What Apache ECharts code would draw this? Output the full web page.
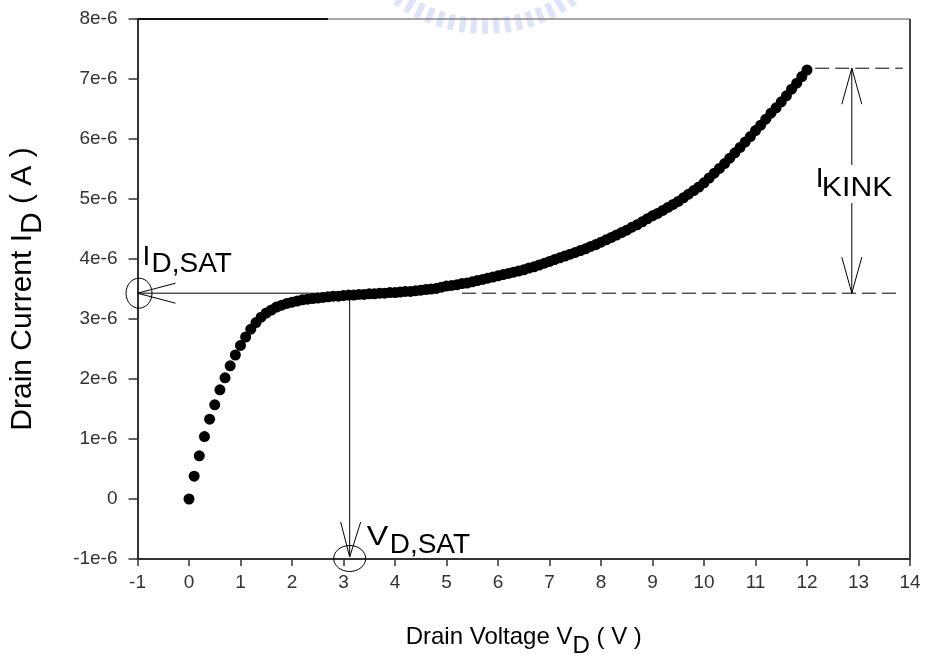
<!DOCTYPE html>
<html><head><meta charset="utf-8">
<script src="https://cdn.jsdelivr.net/npm/echarts@6/dist/echarts.min.js"></script>
<style>html,body{margin:0;padding:0;background:#fff}#c{width:926px;height:659px}</style>
</head><body><div id="c"></div>
<script>
// Drain voltage (V)
const voltage = [
 0.0,0.1,0.2,0.3,0.4,0.5,0.6,0.7,0.8,0.9,
 1.0,1.1,1.2,1.3,1.4,1.5,1.6,1.7,1.8,1.9,
 2.0,2.1,2.2,2.3,2.4,2.5,2.6,2.7,2.8,2.9,
 3.0,3.1,3.2,3.3,3.4,3.5,3.6,3.7,3.8,3.9,
 4.0,4.1,4.2,4.3,4.4,4.5,4.6,4.7,4.8,4.9,
 5.0,5.1,5.2,5.3,5.4,5.5,5.6,5.7,5.8,5.9,
 6.0,6.1,6.2,6.3,6.4,6.5,6.6,6.7,6.8,6.9,
 7.0,7.1,7.2,7.3,7.4,7.5,7.6,7.7,7.8,7.9,
 8.0,8.1,8.2,8.3,8.4,8.5,8.6,8.7,8.8,8.9,
 9.0,9.1,9.2,9.3,9.4,9.5,9.6,9.7,9.8,9.9,
 10.0,10.1,10.2,10.3,10.4,10.5,10.6,10.7,10.8,10.9,
 11.0,11.1,11.2,11.3,11.4,11.5,11.6,11.7,11.8,11.9,
 12.0
];
// Drain current, in units of 1e-6 A
const currentMicroA = [
 0.00,0.38,0.72,1.04,1.33,1.57,1.82,2.02,2.22,2.40,
 2.56,2.70,2.83,2.94,3.03,3.10,3.15,3.20,3.23,3.26,
 3.28,3.30,3.32,3.33,3.34,3.35,3.36,3.37,3.38,3.38,
 3.39,3.40,3.40,3.41,3.41,3.42,3.42,3.43,3.43,3.44,
 3.44,3.45,3.46,3.46,3.47,3.48,3.49,3.50,3.51,3.53,
 3.55,3.56,3.57,3.59,3.60,3.62,3.64,3.66,3.68,3.70,
 3.72,3.74,3.76,3.78,3.80,3.82,3.85,3.87,3.90,3.93,
 3.96,3.99,4.02,4.05,4.08,4.11,4.14,4.17,4.21,4.24,
 4.28,4.32,4.36,4.40,4.44,4.48,4.53,4.57,4.62,4.67,
 4.72,4.76,4.81,4.86,4.91,4.96,5.02,5.08,5.14,5.20,
 5.27,5.35,5.43,5.51,5.59,5.68,5.77,5.86,5.95,6.04,
 6.14,6.23,6.33,6.43,6.52,6.62,6.72,6.83,6.93,7.04,
 7.15
];
const xTickLabels = ['-1','0','1','2','3','4','5','6','7','8','9','10','11','12','13','14'];
const yTickLabels = ['-1e-6','0','1e-6','2e-6','3e-6','4e-6','5e-6','6e-6','7e-6','8e-6'];

// annotation anchors (data units: V, 1e-6 A)
const ID_SAT = 3.43;
const VD_SAT = 3.12;
const I_KINK_TOP = 7.18;
const KINK_X = 12.87;
const satDashFrom = 5.3, satDashTo = 13.77;
const topDashFrom = 12.16, topDashTo = 13.86;

const FONT = 'Liberation Sans, Arial, Helvetica, sans-serif';
const chart = echarts.init(document.getElementById('c'), null, {renderer:'canvas'});

const xMin = -1, xMax = 14, yMin = -1, yMax = 8;

chart.setOption({
  animation: false,
  backgroundColor: '#fff',
  grid: {left: 137.5, right: 16, top: 19, bottom: 100, show: false, containLabel: false, outerBoundsMode: 'none'},
  xAxis: {
    type: 'value', min: xMin, max: xMax, interval: 1,
    axisLine: {show: true, onZero: false, lineStyle: {color: '#333', width: 2}},
    axisTick: {show: true, inside: false, length: 7, lineStyle: {color: '#333', width: 1.5}},
    splitLine: {show: false},
    axisLabel: {margin: 14, fontSize: 19, fontFamily: FONT, color: '#333',
      formatter: v => xTickLabels[Math.round(v - xMin)]},
    name: '{a|Drain Voltage V}{s|D}{a| ( V )}',
    nameLocation: 'middle', nameGap: 66,
    nameTextStyle: {
      rich: {
        a: {fontSize: 24, fontFamily: FONT, color: '#000', lineHeight: 28, verticalAlign: 'top'},
        s: {fontSize: 24, fontFamily: FONT, color: '#000', lineHeight: 28, padding: [9,0,0,0], verticalAlign: 'top'}
      }
    }
  },
  yAxis: {
    type: 'value', min: yMin, max: yMax, interval: 1,
    axisLine: {show: true, onZero: false, lineStyle: {color: '#333', width: 2}},
    axisTick: {show: true, inside: false, length: 9, lineStyle: {color: '#333', width: 1.5}},
    splitLine: {show: false},
    axisLabel: {margin: 20, fontSize: 19, fontFamily: FONT, color: '#333',
      formatter: v => yTickLabels[Math.round(v - yMin)]},
    name: '{a|Drain Current I}{s|D}{a| ( A )}',
    nameLocation: 'middle', nameGap: 96, nameRotate: 90,
    nameTextStyle: {
      rich: {
        a: {fontSize: 30, fontFamily: FONT, color: '#000', lineHeight: 34, verticalAlign: 'top'},
        s: {fontSize: 30, fontFamily: FONT, color: '#000', lineHeight: 34, padding: [10,0,0,0], verticalAlign: 'top'}
      }
    }
  },
  series: [{
    type: 'scatter',
    data: voltage.map((v, i) => [v, currentMicroA[i]]),
    symbol: 'circle', symbolSize: 11,
    itemStyle: {color: '#000', opacity: 1},
    z: 5
  }]
});

const P = (x, y) => chart.convertToPixel({gridIndex: 0}, [x, y]);
const g = [];
function line(a, b, opt) {
  g.push({type: 'line', silent: true, z: 10,
    shape: {x1: a[0], y1: a[1], x2: b[0], y2: b[1]},
    style: Object.assign({stroke: '#000', lineWidth: 1}, opt || {})});
}
function txt(s, x, y, size, sx) {
  g.push({type: 'text', silent: true, z: 10, x: x, y: y, scaleX: sx || 1,
    style: {text: s, x: 0, y: 0, font: size + 'px ' + FONT, fill: '#000',
      textAlign: 'left', textVerticalAlign: 'middle', align: 'left', verticalAlign: 'middle'}});
}
function ellipse(c, rx, ry) {
  g.push({type: 'ellipse', silent: true, z: 10,
    shape: {cx: c[0], cy: c[1], rx: rx, ry: ry},
    style: {fill: null, stroke: '#000', lineWidth: 1}});
}

// faint watermark seal at the top (decoration)
const wcx = 485, wcy = -121, wR = 156;
for (let k = -8; k <= 8; k++) {
  const a = k * 4.4 * Math.PI / 180;
  const px = wcx + Math.sin(a) * (wR - 9), py = wcy + Math.cos(a) * (wR - 9);
  g.push({type: 'rect', silent: true, z: 0, x: px, y: py, rotation: a, originX: 0, originY: 0,
    shape: {x: -3, y: -8, width: 6, height: 16},
    style: {fill: '#c3ccf0', opacity: 0.55}});
}

// frame (top and right)
const tl = P(xMin, yMax), tr = P(xMax, yMax), br = P(xMax, yMin);
line(tl, [328, tl[1]], {stroke: '#111', lineWidth: 2});
line([328, tl[1]], tr, {stroke: '#888', lineWidth: 1.5});
line(tr, br, {stroke: '#444', lineWidth: 2});

// I_D,SAT horizontal (to the left axis) with arrow
const sL = P(xMin, ID_SAT), sV = P(VD_SAT, ID_SAT);
line(sL, sV);
line(sL, [sL[0] + 38, sL[1] - 10]);
line(sL, [sL[0] + 38, sL[1] + 10]);
ellipse([sL[0] + 1.5, sL[1]], 13, 15);
// dashed saturation level
line(P(satDashFrom, ID_SAT), P(satDashTo, ID_SAT), {lineDash: [14, 6]});
// V_D,SAT vertical with arrow
const vB = P(VD_SAT, yMin);
const vTip = [vB[0], vB[1] - 2];
line(sV, vTip);
line(vTip, [vTip[0] - 9, vTip[1] - 35]);
line(vTip, [vTip[0] + 11, vTip[1] - 35]);
ellipse([vB[0], vB[1] - 0.5], 16, 13);
// top dashed and kink arrow
line(P(topDashFrom, I_KINK_TOP), P(topDashTo, I_KINK_TOP), {lineDash: [14, 6]});
const kT = P(KINK_X, I_KINK_TOP), kB = P(KINK_X, ID_SAT);
line(kT, [kT[0], 165]);
line([kB[0], 203], kB);
line(kT, [kT[0] - 10, kT[1] + 36]);
line(kT, [kT[0] + 10, kT[1] + 36]);
line(kB, [kB[0] - 10, kB[1] - 36]);
line(kB, [kB[0] + 10, kB[1] - 36]);

// annotation labels
txt('I', sL[0] + 5, sL[1] - 36, 28);
txt('D,SAT', sL[0] + 14, sL[1] - 29, 28);
txt('V', vB[0] + 17, vB[1] - 21.5, 28, 1.15);
txt('D,SAT', vB[0] + 40, vB[1] - 13.5, 28);
txt('I', kT[0] - 36, 179.5, 28);
txt('KINK', kT[0] - 30, 188.5, 28, 1.08);

chart.setOption({graphic: g});
</script></body></html>
